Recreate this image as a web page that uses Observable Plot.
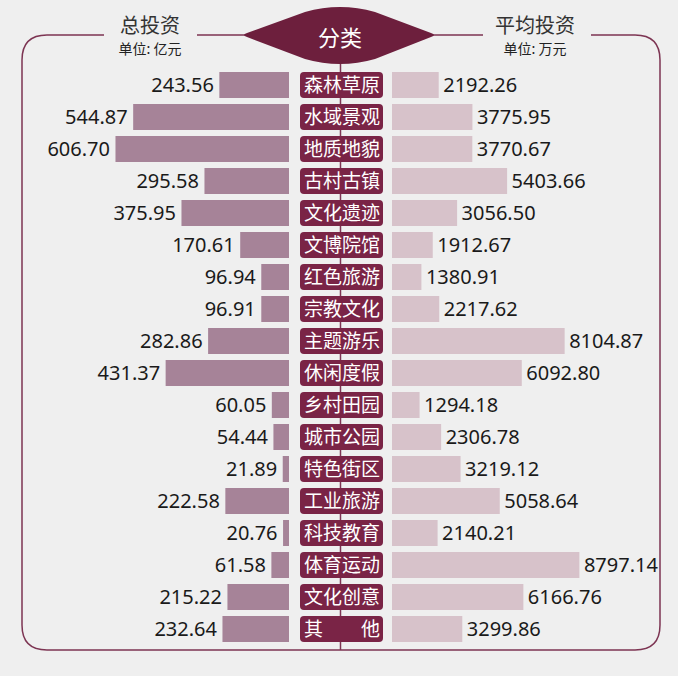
<!DOCTYPE html>
<html><head><meta charset="utf-8">
<script src="https://cdn.jsdelivr.net/npm/d3@7"></script>
<script src="https://cdn.jsdelivr.net/npm/@observablehq/plot@0.6"></script>
<style>
body{margin:0;background:#efefef;}
#wrap{position:relative;width:678px;height:676px;background:#efefef;overflow:hidden;}
#wrap svg{position:absolute;left:0;top:0;background:transparent;}
</style>
</head><body><div id="wrap"></div>
<script>
const categories = ["森林草原","水域景观","地质地貌","古村古镇","文化遗迹","文博院馆","红色旅游","宗教文化","主题游乐","休闲度假","乡村田园","城市公园","特色街区","工业旅游","科技教育","体育运动","文化创意","其　　他"];
const totalInvestment = [243.56,544.87,606.70,295.58,375.95,170.61,96.94,96.91,282.86,431.37,60.05,54.44,21.89,222.58,20.76,61.58,215.22,232.64];
const avgInvestment = [2192.26,3775.95,3770.67,5403.66,3056.50,1912.67,1380.91,2217.62,8104.87,6092.80,1294.18,2306.78,3219.12,5058.64,2140.21,8797.14,6166.76,3299.86];
const leftTitle = "总投资", leftUnit = "单位: 亿元";
const rightTitle = "平均投资", rightUnit = "单位: 万元";
const centerTitle = "分类";

const data = categories.map((c, i) => ({c, total: totalInvestment[i], avg: avgInvestment[i]}));

const W = 678, H = 676;
const maroon = "#7a2446";
const lineCol = "#7d3553";
const cjk = "'Noto Sans CJK SC', 'Noto Sans', sans-serif";
const num = "'Noto Sans', 'Noto Sans CJK SC', sans-serif";
const yScale = {domain: categories, range: [72, 642], paddingInner: 0.2, paddingOuter: 0, axis: null};
const base = {width: W, height: H, margin: 0, style: {background: "transparent", overflow: "visible"}};

function decor() {
  const g = d3.create("svg:g");
  g.append("path")
    .attr("d", "M104,35 L47,35 Q22,35 22,60 L22,625 Q22,650 47,650 L635,650 Q660,650 660,625 L660,60 Q660,35 635,35 L591,35 M197,35 L250,35 M430,35 L483,35 M340.5,60 L340.5,650")
    .attr("fill", "none").attr("stroke", lineCol).attr("stroke-width", 1.5);
  g.append("path")
    .attr("d", "M247,33 L305,12 Q340,2 375,12 L431,33 Q437,35 431,37 L375,59 Q340,69 305,59 L247,37 Q241,35 247,33 Z")
    .attr("fill", "#6d1f3d");
  g.append("text").attr("x", 340).attr("y", 36).attr("text-anchor", "middle").attr("dominant-baseline", "central")
    .attr("fill", "white").attr("font-size", 22).attr("font-family", cjk).text(centerTitle);
  const hdr = [[150, leftTitle, leftUnit], [535, rightTitle, rightUnit]];
  for (const [x, t, u] of hdr) {
    g.append("text").attr("x", x).attr("y", 24).attr("text-anchor", "middle").attr("dominant-baseline", "central")
      .attr("fill", "#333").attr("font-size", 20).attr("font-family", cjk).text(t);
    g.append("text").attr("x", x).attr("y", 48).attr("text-anchor", "middle").attr("dominant-baseline", "central")
      .attr("fill", "#222").attr("font-size", 14).attr("font-family", cjk).text(u);
  }
  return g.node();
}

const left = Plot.plot({
  ...base,
  x: {domain: [0, 700], range: [289, 88.8], axis: null},
  y: yScale,
  marks: [
    decor,
    Plot.barX(data, {x1: 0, x2: "total", y: "c", fill: "#a68398"}),
    Plot.text(data, {x: "total", y: "c", text: d => d.total.toFixed(2), textAnchor: "end", dx: -6, fill: "#1a1a1a", fontSize: 20, fontFamily: num})
  ]
});

const right = Plot.plot({
  ...base,
  x: {domain: [0, 10000], range: [392, 605], axis: null},
  y: yScale,
  marks: [
    Plot.barX(data, {x1: 0, x2: "avg", y: "c", fill: "#d7c2ca"}),
    Plot.text(data, {x: "avg", y: "c", text: d => d.avg.toFixed(2), textAnchor: "start", dx: 4, fill: "#1a1a1a", fontSize: 20, fontFamily: num})
  ]
});

const center = Plot.plot({
  ...base,
  x: {domain: [0, 1], range: [300, 383], axis: null},
  y: yScale,
  marks: [
    Plot.barX(data, {x1: 0, x2: 1, y: "c", fill: maroon, rx: 4}),
    Plot.text(data, {x: 0.5, y: "c", text: "c", fill: "white", fontSize: 19, fontFamily: cjk})
  ]
});

const wrap = document.getElementById("wrap");
wrap.append(left, right, center);
</script>
</body></html>
